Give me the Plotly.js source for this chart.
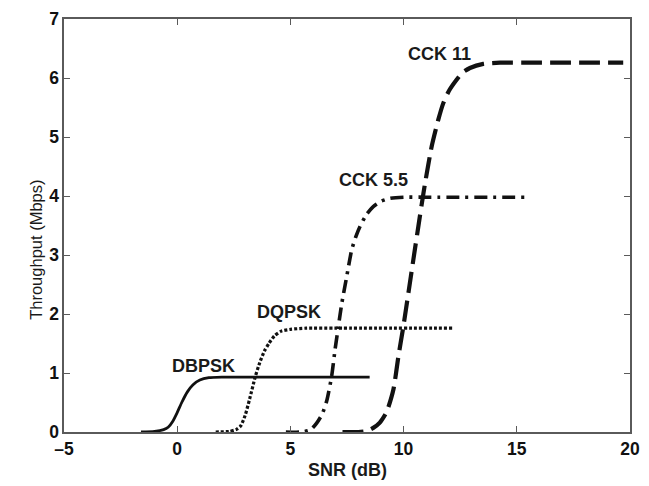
<!DOCTYPE html>
<html>
<head>
<meta charset="utf-8">
<script src="https://cdn.plot.ly/plotly-3.0.1.min.js"></script>
<style>html,body{margin:0;padding:0;background:#fff;}#chart{width:649px;height:486px;}</style>
</head>
<body>
<div id="chart"></div>
<script>
// Values
const dbpskX = [-1.6, -1.0, -0.6, -0.4, -0.2, 0.0, 0.2, 0.45, 0.7, 1.0, 1.4, 2.0, 3.0, 5.0, 8.5];
const dbpskY = [0, 0.01, 0.04, 0.08, 0.18, 0.33, 0.50, 0.68, 0.80, 0.88, 0.92, 0.93, 0.93, 0.93, 0.93];

const dqpskX = [1.7, 2.3, 2.6, 2.8, 3.0, 3.2, 3.45, 3.65, 3.85, 4.05, 4.3, 4.6, 5.0, 5.7, 7.0, 12.2];
const dqpskY = [0, 0.01, 0.04, 0.10, 0.28, 0.56, 0.94, 1.18, 1.37, 1.50, 1.63, 1.71, 1.74, 1.76, 1.76, 1.76];

const cck55X = [4.8, 5.5, 5.9, 6.16, 6.4, 6.6, 6.82, 6.97, 7.12, 7.27, 7.49, 7.71, 7.9, 8.07, 8.35, 8.66, 9.0, 9.4, 10.0, 11.0, 15.5];
const cck55Y = [0, 0, 0.04, 0.15, 0.30, 0.52, 0.94, 1.39, 1.79, 2.18, 2.64, 3.09, 3.32, 3.48, 3.68, 3.82, 3.91, 3.96, 3.98, 3.98, 3.98];

const cck11X = [7.3, 8.0, 8.4, 8.66, 8.95, 9.25, 9.55, 9.77, 9.99, 10.21, 10.43, 10.65, 10.8, 10.95, 11.24, 11.53, 11.75, 12.0, 12.34, 12.6, 12.93, 13.52, 14.26, 16.0, 19.7];
const cck11Y = [0, 0, 0.02, 0.07, 0.16, 0.34, 0.72, 1.28, 1.79, 2.35, 2.92, 3.48, 3.86, 4.22, 4.84, 5.29, 5.57, 5.78, 5.97, 6.09, 6.17, 6.24, 6.26, 6.26, 6.26];

const seriesNames = ["DBPSK", "DQPSK", "CCK 5.5", "CCK 11"];
const labelX = [1.15, 4.95, 8.69, 11.6];
const labelY = [1.12, 2.04, 4.27, 6.4];

const xTicks = [-5, 0, 5, 10, 15, 20];
const yTicks = [0, 1, 2, 3, 4, 5, 6, 7];

const FONT = '"Liberation Sans", Arial, Helvetica, sans-serif';

const traces = [
  {x: dbpskX, y: dbpskY, name: seriesNames[0], mode: 'lines',
   line: {color: '#111', width: 2.8, shape: 'spline', smoothing: 0.6}},
  {x: dqpskX, y: dqpskY, name: seriesNames[1], mode: 'lines',
   line: {color: '#111', width: 3.2, dash: '3px,2px', shape: 'spline', smoothing: 0.6}},
  {x: cck55X, y: cck55Y, name: seriesNames[2], mode: 'lines',
   line: {color: '#111', width: 3.6, dash: '13px,6px,3px,6px', shape: 'spline', smoothing: 0.6}},
  {x: cck11X, y: cck11Y, name: seriesNames[3], mode: 'lines',
   line: {color: '#111', width: 4.2, dash: '21px,8px', shape: 'spline', smoothing: 0.6}}
];

const annotations = seriesNames.map((n, i) => ({
  x: labelX[i], y: labelY[i], xref: 'x', yref: 'y', text: n, showarrow: false,
  font: {family: FONT, size: 18, color: '#1a1a1a', weight: 'bold'}
}));
annotations.push({
  xref: 'paper', yref: 'paper', x: -0.069, y: 0.441, text: 'Throughput (Mbps)',
  textangle: -90, showarrow: false, font: {family: FONT, size: 16.5, color: '#1a1a1a'}
});
annotations.push({
  xref: 'paper', yref: 'paper', x: 0.5, y: -0.091, yanchor: 'middle', text: 'SNR (dB)',
  showarrow: false, font: {family: FONT, size: 18, color: '#1a1a1a', weight: 'bold'}
});

const axisCommon = {
  showline: true, linecolor: '#5a5a5a', linewidth: 1.6, mirror: 'ticks',
  ticks: 'inside', ticklen: 6, tickcolor: '#5a5a5a', tickwidth: 1,
  showgrid: false, zeroline: false,
  tickfont: {family: FONT, size: 17.5, color: '#111', weight: 'bold'}
};

const layout = {
  width: 649, height: 486,
  margin: {l: 64, r: 19, t: 19, b: 54},
  paper_bgcolor: '#fff', plot_bgcolor: '#fff',
  showlegend: false,
  xaxis: Object.assign({}, axisCommon, {
    range: [-5, 20], tickvals: xTicks, ticktext: xTicks.map(v => v < 0 ? '\u2013' + Math.abs(v) : String(v))
  }),
  yaxis: Object.assign({}, axisCommon, {
    range: [0, 7], tickvals: yTicks, ticktext: yTicks.map(String)
  }),
  annotations: annotations
};

Plotly.newPlot('chart', traces, layout, {staticPlot: true, displayModeBar: false});
</script>
</body>
</html>
